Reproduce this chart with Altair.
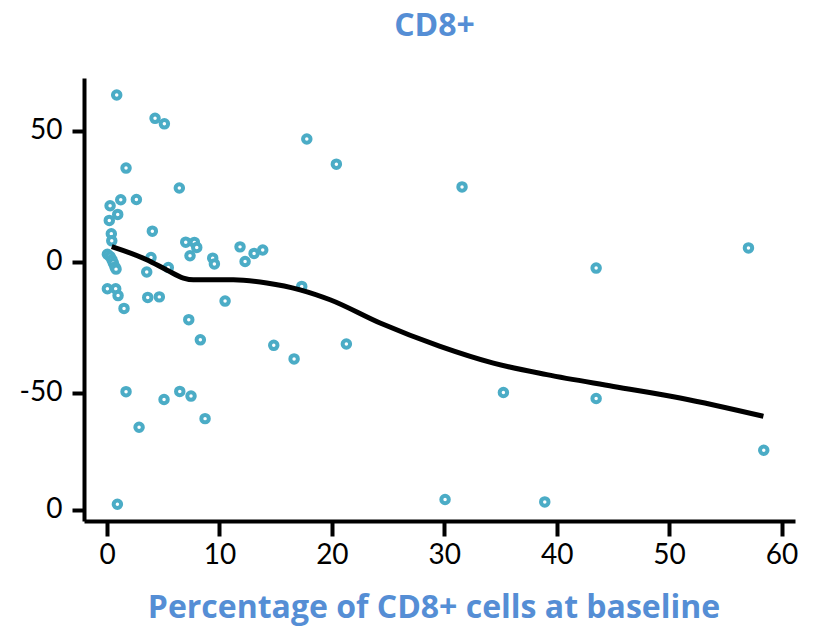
import altair as alt
import pandas as pd

# Scatter points (x = % CD8+ at baseline, y = change)
x_vals = [0.86, 4.27, 5.10, 1.69, 6.43, 0.27, 1.22, 2.61, 0.95, 0.20,
          4.03, 0.38, 0.42, 7.00, 7.77, 7.98, 7.38, 11.83, 13.08, 13.85,
          12.28, 9.40, 9.55, 3.91, 5.45, 3.53, 0.03, 0.27, 0.44, 0.56,
          0.71, 0.80, 0.03, 0.77, 0.98, 1.51, 3.62, 4.65, 10.50, 7.27,
          8.30, 14.83, 16.64, 1.69, 6.47, 7.47, 5.07, 8.72, 2.85, 0.92,
          17.77, 20.40, 31.58, 57.06, 43.51, 17.32, 21.29, 35.26, 43.51, 58.42,
          30.07, 38.94]
y_vals = [63.7, 54.8, 52.7, 35.8, 28.2, 21.4, 23.7, 23.8, 18.1, 15.8,
          11.7, 10.7, 8.0, 7.5, 7.4, 5.5, 2.3, 5.7, 3.2, 4.5,
          0.1, 1.4, -0.8, 1.6, -2.2, -3.9, 2.9, 2.0, 0.8, -0.5,
          -2.0, -2.8, -10.3, -10.3, -12.9, -17.8, -13.6, -13.4, -15.0, -22.1,
          -29.8, -31.9, -37.1, -49.6, -49.5, -51.3, -52.6, -59.9, -63.2, -92.6,
          46.9, 37.3, 28.6, 5.3, -2.4, -9.4, -31.4, -49.9, -52.2, -72.0,
          -90.8, -91.7]

# Smoothed trend curve
curve_x = [0.42, 3.53, 5.31, 6.79, 7.68, 11.24, 14.21, 17.17, 19.84, 24.29,
           29.63, 34.37, 39.12, 45.05, 50.98, 58.39]
curve_y = [5.8, 0.8, -3.1, -6.2, -6.9, -6.9, -8.1, -10.7, -14.5, -23.4,
           -32.3, -38.7, -43.1, -47.6, -52.0, -59.0]

# Axis ticks / labels
x_ticks = [0, 10, 20, 30, 40, 50, 60]
y_ticks = [50, 0, -50, -94.7]
y_tick_labels = ["50", "0", "-50", "0"]

pts = pd.DataFrame({"x": x_vals, "y": y_vals})
curve = pd.DataFrame({"x": curve_x, "y": curve_y})

BLUE = "#558ED5"
PT = "#4BACC6"
FONT = "Lato"
TFONT = "Open Sans"

label_expr = ("datum.value > 25 ? '%s' : datum.value > -25 ? '%s' : "
              "datum.value > -75 ? '%s' : '%s'") % tuple(y_tick_labels)

xscale = alt.Scale(domain=[-2.05, 61.2], nice=False, zero=False)
yscale = alt.Scale(domain=[-99, 70.2], nice=False, zero=False)

xaxis = alt.Axis(values=x_ticks, title="Percentage of CD8+ cells at baseline",
                 titleFont=TFONT, titleFontSize=32, titleFontWeight="bold",
                 titleColor=BLUE, titleX=349.5, titleY=96,
                 titleBaseline="alphabetic", titleAnchor="middle", titleAlign="center",
                 labelFont=FONT, labelFontSize=28, labelColor="black",
                 labelPadding=5, tickSize=15, tickWidth=4, tickColor="black",
                 domainColor="black", domainWidth=4, grid=False)
yaxis = alt.Axis(values=y_ticks, labelExpr=label_expr, title=None,
                 labelFont=FONT, labelFontSize=28, labelColor="black",
                 labelPadding=10, tickSize=12, tickWidth=4, tickColor="black",
                 domainColor="black", domainWidth=4, grid=False)

points = alt.Chart(pts).mark_point(
    shape="circle", filled=False, fill="white", fillOpacity=1,
    stroke=PT, strokeWidth=4, size=56, opacity=1
).encode(
    x=alt.X("x:Q", scale=xscale, axis=xaxis),
    y=alt.Y("y:Q", scale=yscale, axis=yaxis),
)

line = alt.Chart(curve).mark_line(
    color="black", strokeWidth=5, interpolate="monotone"
).encode(
    x=alt.X("x:Q", scale=xscale),
    y=alt.Y("y:Q", scale=yscale),
)

chart = alt.layer(points, line).properties(
    width=711, height=443,
    background="white",
    title=alt.TitleParams("CD8+", font=TFONT, fontSize=32, fontWeight="bold",
                          color=BLUE, anchor="middle", dx=-5, offset=10,
                          baseline="alphabetic"),
    autosize=alt.AutoSizeParams(type="none"),
    padding={"left": 84, "top": 78, "right": 19, "bottom": 106},
).configure_view(stroke=None)

chart.save("out.html", embed_options={"renderer": "svg", "actions": False})
